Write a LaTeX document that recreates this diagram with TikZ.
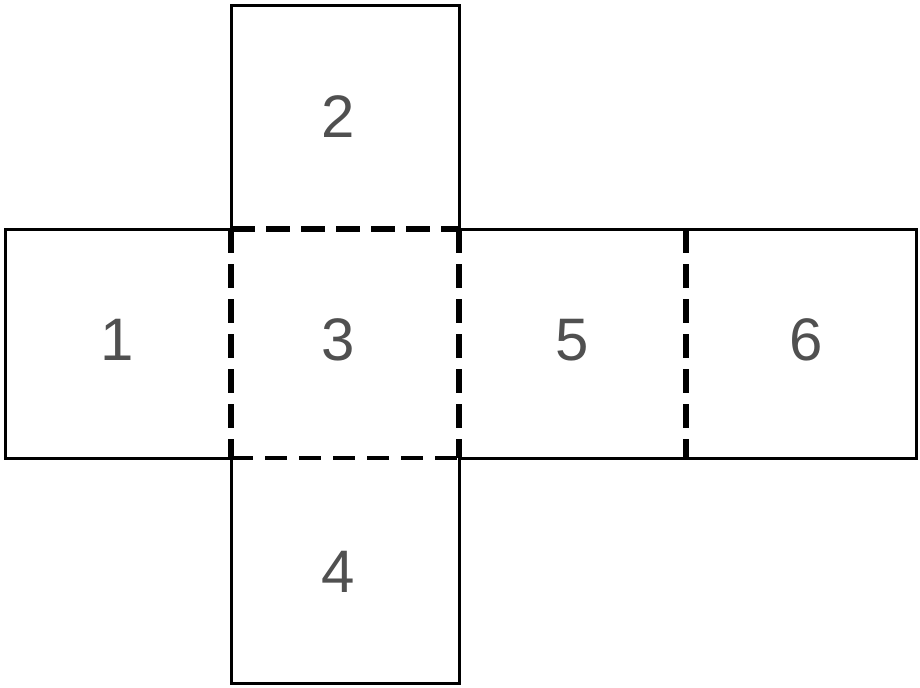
\documentclass[tikz,border=0pt]{standalone}
\usepackage{fontspec}
\setmainfont{Liberation Sans}
\definecolor{facegray}{RGB}{80,80,80}
\begin{document}
\begin{tikzpicture}[x=0.5pt,y=-0.5pt,
    edge/.style={line width=1.5pt},
    fold/.style={line width=3pt, dash pattern=on 12pt off 5.5pt},
    thinfold/.style={line width=2pt, dash pattern=on 11pt off 6pt},
    face/.style={text=facegray, font=\fontsize{30}{30}\selectfont}]
    \useasboundingbox (0,0) rectangle (920,687);
    \coordinate (a1) at (5,229);
    \coordinate (a2) at (231,229);
    \coordinate (a3) at (459,229);
    \coordinate (a4) at (686,229);
    \coordinate (a5) at (916,229);
    \coordinate (b1) at (5,458);
    \coordinate (b2) at (231,458);
    \coordinate (b3) at (459,458);
    \coordinate (b4) at (686,458);
    \coordinate (b5) at (916,458);
    \coordinate (t2) at (231,5);
    \coordinate (t3) at (459,5);
    \coordinate (d2) at (231,683);
    \coordinate (d3) at (459,683);

    \draw [edge] (a2) -- (t2) -- (t3) -- (a3);
    \draw [edge] (a2) -- (a1) -- (b1) -- (b2);
    \draw [edge] (b2) -- (d2) -- (d3) -- (b3);
    \draw [edge] (a3) -- (a5) -- (b5) -- (b3);
    \draw [fold] (a2) -- (a3);
    \draw [fold] (a2) -- (b2);
    \draw [fold] (a3) -- (b3);
    \draw [fold] (a4) -- (b4);
    \draw [thinfold] (b2) -- (b3);

    \node [face] (f1) at (117,340) {1};
    \node [face] (f2) at (338,117) {2};
    \node [face] (f3) at (338,340) {3};
    \node [face] (f4) at (338,572) {4};
    \node [face] (f5) at (572,340) {5};
    \node [face] (f6) at (806,340) {6};
\end{tikzpicture}
\end{document}
